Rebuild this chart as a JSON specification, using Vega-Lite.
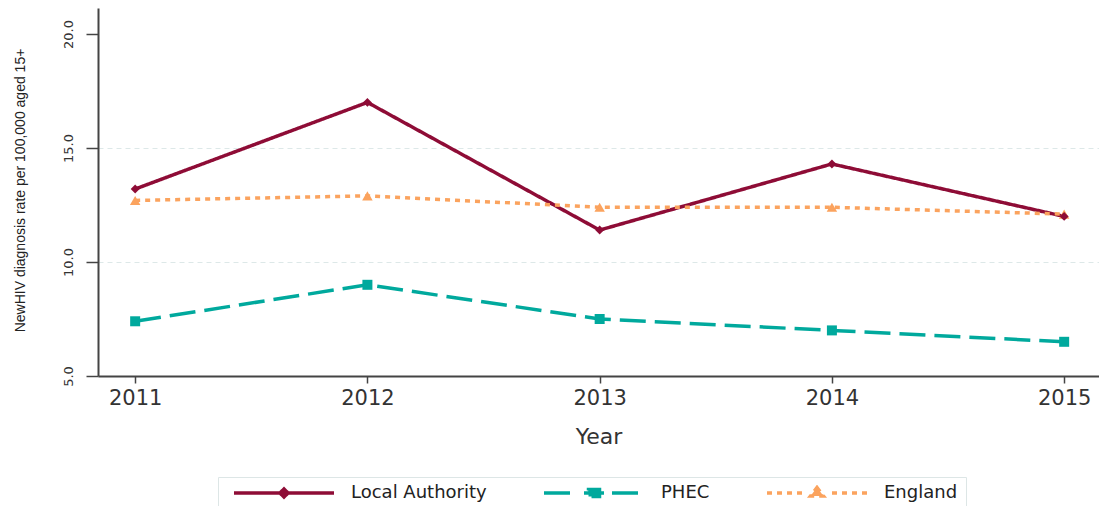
{
  "$schema": "https://vega.github.io/schema/vega-lite/v6.json",
  "width": 1001,
  "height": 368,
  "autosize": {"type": "none"},
  "padding": {"left": 98, "top": 8, "right": 0, "bottom": 130},
  "background": "white",
  "config": {"view": {"stroke": null}, "font": "DejaVu Sans"},
  "data": {
    "values": [
      {"year": 2011, "series": "Local Authority", "value": 13.2},
      {"year": 2012, "series": "Local Authority", "value": 17.0},
      {"year": 2013, "series": "Local Authority", "value": 11.4},
      {"year": 2014, "series": "Local Authority", "value": 14.3},
      {"year": 2015, "series": "Local Authority", "value": 12.0},
      {"year": 2011, "series": "PHEC", "value": 7.4},
      {"year": 2012, "series": "PHEC", "value": 9.0},
      {"year": 2013, "series": "PHEC", "value": 7.5},
      {"year": 2014, "series": "PHEC", "value": 7.0},
      {"year": 2015, "series": "PHEC", "value": 6.5},
      {"year": 2011, "series": "England", "value": 12.7},
      {"year": 2012, "series": "England", "value": 12.9},
      {"year": 2013, "series": "England", "value": 12.4},
      {"year": 2014, "series": "England", "value": 12.4},
      {"year": 2015, "series": "England", "value": 12.1}
    ]
  },
  "encoding": {
    "x": {
      "field": "year",
      "type": "quantitative",
      "scale": {"domain": [2010.84, 2015.15], "nice": false, "zero": false},
      "axis": {
        "values": [2011, 2012, 2013, 2014, 2015],
        "format": "d",
        "grid": false,
        "tickSize": 7,
        "tickColor": "#444",
        "tickWidth": 1.5,
        "domainColor": "#444",
        "domainWidth": 2,
        "labelFontSize": 21,
        "labelColor": "#333",
        "labelPadding": 4,
        "labelFlush": false,
        "labelOverlap": false,
        "title": "Year",
        "titleFontSize": 22,
        "titleFontWeight": "normal",
        "titleColor": "#333",
        "titleY": 60,
        "titleBaseline": "middle"
      }
    },
    "y": {
      "field": "value",
      "type": "quantitative",
      "scale": {"domain": [5, 21.14], "nice": false, "zero": false},
      "axis": {
        "values": [5, 10, 15, 20],
        "format": ".1f",
        "labelAngle": -90,
        "labelAlign": "center",
        "labelBaseline": "bottom",
        "labelPadding": 11,
        "labelFontSize": 13,
        "labelColor": "#333",
        "labelFlush": false,
        "labelOverlap": false,
        "tickSize": 12,
        "tickColor": "#444",
        "tickWidth": 1.5,
        "domainColor": "#444",
        "domainWidth": 2,
        "grid": true,
        "gridColor": "#dde8e8",
        "gridDash": [5, 4],
        "gridWidth": 1,
        "gridOpacity": {"condition": {"test": "datum.value == 10 || datum.value == 15", "value": 1}, "value": 0},
        "title": "NewHIV diagnosis rate per 100,000 aged 15+",
        "titleFont": "Liberation Sans",
        "titleFontSize": 14,
        "titleFontWeight": "normal",
        "titleColor": "#222",
        "titleAngle": -90,
        "titleX": -78,
        "titleY": 182,
        "titleAlign": "center",
        "titleBaseline": "middle"
      }
    }
  },
  "layer": [
    {
      "mark": {"type": "line", "strokeWidth": 3.5},
      "encoding": {
        "color": {
          "field": "series", "type": "nominal",
          "scale": {"domain": ["Local Authority", "PHEC", "England"], "range": ["#8E0C36", "#00A99D", "#FBA35E"]},
          "legend": {
            "title": null,
            "orient": "none",
            "direction": "horizontal",
            "legendX": 120,
            "legendY": 469,
            "padding": 8,
            "strokeColor": "#dde6e6",
            "symbolSize": 10000,
            "symbolStrokeWidth": 3.5,
            "symbolOpacity": 1,
            "symbolOffset": 6,
            "clipHeight": 16,
            "columnPadding": 49,
            "labelOffset": 15,
            "labelFontSize": 18,
            "labelColor": "#222",
            "labelLimit": 300,
            "encode": {
              "symbols": {
                "update": {
                  "fill": {"scale": "color", "field": "value"},
                  "stroke": {"scale": "color", "field": "value"},
                  "opacity": {"value": 1}
                }
              }
            }
          }
        },
        "strokeDash": {
          "field": "series", "type": "nominal",
          "scale": {"domain": ["Local Authority", "PHEC", "England"], "range": [[1, 0], [26, 9], [5, 5]]},
          "legend": null
        }
      }
    },
    {
      "transform": [{"filter": "datum.series == 'England'"}],
      "mark": {"type": "point", "filled": true, "shape": "triangle-up", "size": 110, "color": "#FBA35E", "opacity": 1}
    },
    {
      "transform": [{"filter": "datum.series == 'PHEC'"}],
      "mark": {"type": "point", "filled": true, "shape": "square", "size": 100, "color": "#00A99D", "opacity": 1}
    },
    {
      "transform": [{"filter": "datum.series == 'Local Authority'"}],
      "mark": {"type": "point", "filled": true, "shape": "diamond", "size": 80, "color": "#8E0C36", "opacity": 1}
    },
    {
      "transform": [{"filter": "datum.year < 0"}],
      "mark": {"type": "point", "filled": true, "strokeWidth": 3.5, "color": "#8E0C36"},
      "encoding": {
        "shape": {
          "field": "series", "type": "nominal",
          "scale": {
            "domain": ["Local Authority", "PHEC", "England"],
            "range": [
              "M-1,0H1M0,-0.08L0.08,0L0,0.08L-0.08,0Z",
              "M-1,0H-0.36M-0.2,0H0.2M0.36,0H1M-0.11,-0.07H0.11V0.07H-0.11Z",
              "M-1,0H-0.9M-0.8,0H-0.7M-0.6,0H-0.5M-0.4,0H-0.3M0.3,0H0.4M0.5,0H0.6M0.7,0H0.8M0.9,0H1M0,-0.11L0.13,0.06L-0.13,0.06Z"
            ]
          },
          "legend": {
            "title": null,
            "orient": "none",
            "direction": "horizontal",
            "legendX": 120,
            "legendY": 469,
            "padding": 8,
            "strokeColor": "#dde6e6",
            "symbolSize": 10000,
            "symbolStrokeWidth": 3.5,
            "symbolOpacity": 1,
            "symbolOffset": 6,
            "clipHeight": 16,
            "columnPadding": 49,
            "labelOffset": 15,
            "labelFontSize": 18,
            "labelColor": "#222",
            "labelLimit": 300
          }
        }
      }
    }
  ]
}
